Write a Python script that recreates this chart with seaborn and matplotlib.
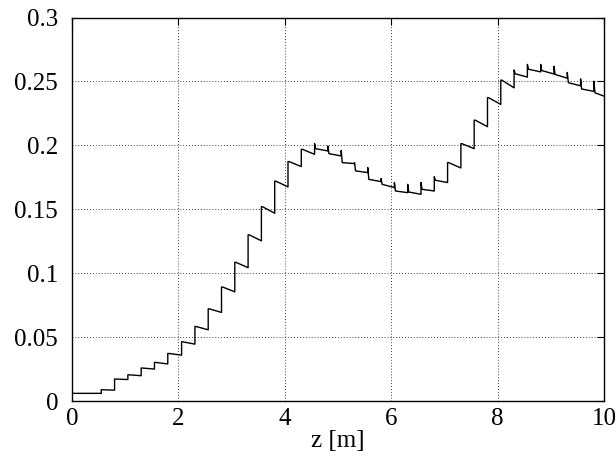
import matplotlib
matplotlib.use("Agg")
import matplotlib.pyplot as plt
import seaborn as sns
import pandas as pd

# ---- data ----
z_start = 0.0
z_end = 10.0
start_value = 0.006
jump_z = [0.55, 0.8, 1.05, 1.3, 1.55, 1.8, 2.06, 2.31, 2.56, 2.81, 3.06, 3.31, 3.56,
          3.81, 4.06, 4.31, 4.56, 4.81, 5.06, 5.31, 5.56, 5.81, 6.06, 6.31, 6.56, 6.81,
          7.06, 7.31, 7.56, 7.81, 8.06, 8.31, 8.56, 8.81, 9.06, 9.31, 9.56, 9.81]
peak = [0.0088, 0.0172, 0.0205, 0.0258, 0.0302, 0.0372, 0.0463, 0.0583, 0.0721,
        0.0892, 0.1085, 0.1300, 0.1520, 0.1720, 0.1873, 0.1969, 0.2013, 0.1995,
        0.1960, 0.1865, 0.1826, 0.1740, 0.1709, 0.1695, 0.1709, 0.1755, 0.1865,
        0.2013, 0.2197, 0.2373, 0.2510, 0.2590, 0.2633, 0.2633, 0.2618, 0.2570,
        0.2520, 0.2502]
settle = [0.0088, 0.0172, 0.0205, 0.0258, 0.0302, 0.0372, 0.0463, 0.0583, 0.0721,
          0.0892, 0.1085, 0.1300, 0.1520, 0.1720, 0.1873, 0.1969, 0.1974, 0.1935,
          0.1865, 0.1800, 0.1734, 0.1695, 0.1643, 0.1635, 0.1656, 0.1727, 0.1865,
          0.2013, 0.2197, 0.2373, 0.2510, 0.2560, 0.2595, 0.2585, 0.2555, 0.2490,
          0.2441, 0.2411]
end = [0.0085, 0.0168, 0.0198, 0.0250, 0.0290, 0.0359, 0.0445, 0.0557, 0.0693,
       0.0854, 0.1043, 0.1253, 0.1469, 0.1675, 0.1834, 0.1930, 0.1956, 0.1917,
       0.1857, 0.1787, 0.1716, 0.1670, 0.1630, 0.1617, 0.1643, 0.1709, 0.1823,
       0.1974, 0.2146, 0.2320, 0.2450, 0.2534, 0.2575, 0.2558, 0.2525, 0.2466,
       0.2422, 0.2385]
x_ticks = [0, 2, 4, 6, 8, 10]
x_labels = ["0", "2", "4", "6", "8", "10"]
y_ticks = [0, 0.05, 0.1, 0.15, 0.2, 0.25, 0.3]
y_labels = ["0", "0.05", "0.1", "0.15", "0.2", "0.25", "0.3"]
x_label = "z [m]"

# ---- build the polyline ----
zs = [z_start]
vs = [start_value]
prev = start_value
nxt = jump_z[1:] + [z_end]
for zk, pk, sk, ek, zn in zip(jump_z, peak, settle, end, nxt):
    zs += [zk, zk, zk + 0.02, zn]
    vs += [prev, pk, sk, ek]
    prev = ek
df = pd.DataFrame({"z": zs, "v": vs})

sns.set_style("white")
plt.rcParams["font.family"] = ["Liberation Serif", "DejaVu Serif"]

fig = plt.figure(figsize=(6.16, 4.62), dpi=100)
ax = fig.add_axes([0.1169, 0.132, 0.8636, 0.8301])

sns.lineplot(data=df, x="z", y="v", sort=False, estimator=None,
             color="black", linewidth=1.0, ax=ax)

ax.set_xlim(0, 10)
ax.set_ylim(0, 0.3)
ax.set_xticks(x_ticks)
ax.set_xticklabels(x_labels)
ax.set_yticks(y_ticks)
ax.set_yticklabels(y_labels)
ax.set_xlabel(x_label, fontsize=18, labelpad=0, color="black")
ax.set_ylabel("")
ax.tick_params(axis="both", labelsize=18, direction="in", length=5,
               width=0.8, top=True, right=True, colors="black")
ax.tick_params(axis="x", pad=5)
ax.tick_params(axis="y", pad=10)
ax.grid(True, color="black", linestyle=(0, (1, 2.5)), linewidth=0.6)
for s in ax.spines.values():
    s.set_color("black")
    s.set_linewidth(1.0)
    s.set_visible(True)

fig.savefig("out.png", dpi=100)
